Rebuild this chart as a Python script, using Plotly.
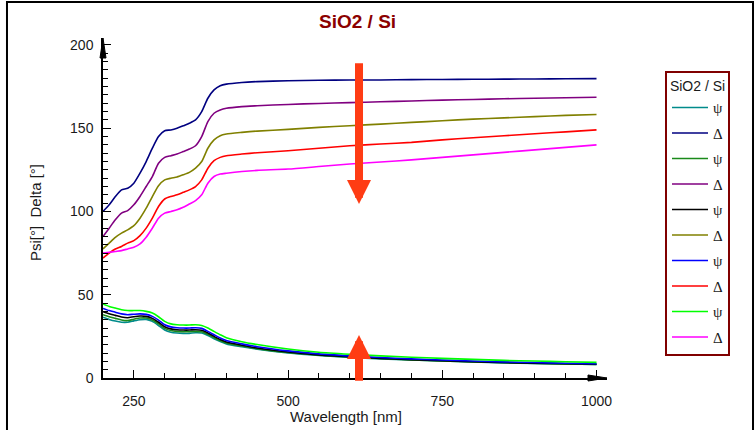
import plotly.graph_objects as go

# Wavelength grid [nm]
wavelength = [200, 210, 220, 230, 240, 250, 260, 270, 280, 290, 300, 310, 320, 330,
              340, 350, 360, 370, 380, 390, 400, 425, 450, 500, 550, 600, 650, 700,
              750, 800, 850, 900, 950, 1000]

# Psi [deg] for the five samples
psi_1 = [36.5, 35.2, 34.2, 33.5, 33.5, 34.3, 35.0, 35.2, 34.0, 31.5, 28.8, 27.5, 27.0, 26.8,
         26.8, 27.2, 27.0, 25.5, 23.6, 21.9, 20.5, 18.8, 17.3, 15.0, 13.5, 12.4, 11.5, 10.8,
         10.2, 9.6, 9.1, 8.7, 8.4, 8.1]
psi_2 = [38.0, 36.8, 35.8, 34.8, 34.5, 35.3, 36.0, 36.0, 34.8, 32.5, 29.8, 28.5, 28.0, 27.8,
         27.8, 28.0, 27.8, 26.2, 24.3, 22.5, 21.0, 19.2, 17.6, 15.3, 13.7, 12.6, 11.7, 10.9,
         10.3, 9.7, 9.2, 8.8, 8.5, 8.2]
psi_3 = [39.8, 38.6, 37.6, 36.6, 36.2, 36.8, 37.2, 37.0, 35.8, 33.5, 30.8, 29.5, 29.0, 28.8,
         28.8, 29.0, 28.7, 27.0, 25.0, 23.1, 21.6, 19.7, 18.0, 15.6, 13.9, 12.8, 11.8, 11.0,
         10.4, 9.8, 9.3, 8.9, 8.6, 8.3]
psi_4 = [41.8, 40.5, 39.5, 38.5, 38.0, 38.3, 38.5, 38.2, 37.0, 34.8, 32.0, 30.7, 30.2, 30.0,
         30.0, 30.2, 29.8, 28.0, 26.0, 24.0, 22.5, 20.5, 18.8, 16.3, 14.5, 13.3, 12.3, 11.5,
         10.8, 10.2, 9.7, 9.3, 8.9, 8.6]
psi_5 = [44.5, 43.0, 42.0, 41.0, 40.5, 40.5, 40.5, 40.0, 39.0, 36.8, 34.0, 32.5, 32.0, 31.8,
         31.8, 32.0, 31.5, 30.0, 28.0, 26.0, 24.2, 21.8, 20.1, 17.4, 15.5, 14.3, 13.3, 12.5,
         11.8, 11.2, 10.6, 10.2, 9.8, 9.4]

# Delta [deg] for the five samples
delta_1 = [100.0, 104.0, 109.0, 113.0, 114.0, 117.0, 123.0, 130.0, 138.0, 145.0, 148.5, 149.0,
           150.0, 151.5, 153.0, 155.0, 160.0, 168.0, 173.0, 175.5, 176.5, 177.5, 178.0, 178.5,
           178.8, 179.0, 179.0, 179.2, 179.3, 179.4, 179.5, 179.6, 179.7, 179.8]
delta_2 = [85.0, 90.0, 95.0, 99.0, 100.5, 104.0, 109.0, 115.0, 121.0, 129.0, 132.5, 133.5,
           134.5, 136.0, 137.5, 139.5, 145.0, 154.0, 159.0, 161.0, 162.0, 163.0, 163.5, 164.3,
           164.9, 165.4, 165.9, 166.4, 166.9, 167.3, 167.7, 168.0, 168.3, 168.6]
delta_3 = [77.5, 81.0, 84.5, 87.0, 89.0, 91.5, 96.0, 102.0, 109.0, 115.5, 119.0, 120.0,
           120.7, 122.0, 123.5, 126.0, 130.0, 138.0, 143.0, 145.5, 146.5, 147.5, 148.3, 149.3,
           150.5, 151.5, 152.5, 153.5, 154.5, 155.5, 156.2, 157.0, 157.7, 158.3]
delta_4 = [72.0, 75.0, 77.5, 79.0, 81.0, 82.5, 85.5, 90.0, 96.0, 103.0, 107.5, 109.0,
           110.0, 111.5, 113.0, 115.0, 119.0, 126.0, 130.5, 132.5, 133.5, 134.5, 135.3, 136.5,
           138.0, 139.5, 140.5, 141.5, 143.0, 144.3, 145.5, 146.7, 147.8, 149.0]
delta_5 = [75.0, 75.5, 76.0, 76.5, 77.5, 78.5, 80.5, 84.5, 90.0, 96.0, 99.0, 100.0,
           101.0, 102.5, 104.5, 106.5, 110.0, 117.0, 121.0, 122.5, 123.0, 124.0, 124.7, 125.5,
           127.0, 128.5, 129.7, 131.0, 132.5, 134.0, 135.5, 137.0, 138.5, 140.0]

psi_series = [psi_1, psi_2, psi_3, psi_4, psi_5]
delta_series = [delta_1, delta_2, delta_3, delta_4, delta_5]
psi_colors = ["#008b8b", "#1a8a1a", "#000000", "#0000ff", "#00ff00"]
delta_colors = ["#000080", "#800080", "#808000", "#ff0000", "#ff00ff"]

X_MAX = 1017
Y_MAX = 204.2

fig = go.Figure()
group = 0
for psi, dlt, cp, cd in zip(psi_series, delta_series, psi_colors, delta_colors):
    fig.add_trace(go.Scatter(x=wavelength, y=psi, mode="lines", name="\u03c8",
                             line=dict(color=cp, width=1.6, shape="spline", smoothing=0.6),
                             legendgroup=f"g{group}"))
    group += 1
    fig.add_trace(go.Scatter(x=wavelength, y=dlt, mode="lines", name="\u0394",
                             line=dict(color=cd, width=1.6, shape="spline", smoothing=0.6),
                             legendgroup=f"g{group}"))
    group += 1

axis_font = dict(family="Liberation Sans, Arial, sans-serif", size=14, color="#1a1a1a")

fig.update_xaxes(range=[200, X_MAX], showgrid=False, zeroline=False,
                 showline=True, linecolor="black", linewidth=1.5,
                 ticks="inside", ticklen=8, tickwidth=1.3, tickcolor="black",
                 tick0=250, dtick=250, tickfont=axis_font, ticklabelstandoff=9,
                 minor=dict(ticks="inside", dtick=50, tick0=200, ticklen=5,
                            tickwidth=1.2, tickcolor="black"))
fig.update_yaxes(range=[0, Y_MAX], showgrid=False, zeroline=False,
                 showline=True, linecolor="black", linewidth=1.5,
                 ticks="inside", ticklen=8, tickwidth=1.3, tickcolor="black",
                 tick0=0, dtick=50, tickfont=axis_font, ticklabelstandoff=5,
                 minor=dict(ticks="inside", dtick=5, ticklen=5,
                            tickwidth=1.2, tickcolor="black"))

# arrowheads at the ends of both axes (paper anchors so they are not clipped)
fig.add_shape(type="path", xref="paper", yref="paper", xsizemode="pixel", ysizemode="pixel",
              xanchor=0, yanchor=1, path="M-3,-20 L0,0 L3,-20 Z",
              fillcolor="black", line=dict(color="black", width=1))
fig.add_shape(type="path", xref="paper", yref="paper", xsizemode="pixel", ysizemode="pixel",
              xanchor=1, yanchor=0, path="M-19,-3 L0,0 L-19,3 Z",
              fillcolor="black", line=dict(color="black", width=1))

# frame around the whole figure
fig.add_shape(type="rect", xref="paper", yref="paper",
              x0=-0.1905, x1=1.2897, y0=-0.2, y1=1.106,
              line=dict(color="black", width=2))

# trend arrows: Delta decreases, Psi increases
arrow_color = "#ff3c14"
fig.add_annotation(x=615, y=104.5, ax=615, ay=190, xref="x", yref="y", axref="x", ayref="y",
                   text="", showarrow=True, arrowhead=2, arrowsize=0.6, arrowwidth=8,
                   arrowcolor=arrow_color)
fig.add_annotation(x=615, y=25.8, ax=615, ay=-2.6, xref="x", yref="y", axref="x", ayref="y",
                   text="", showarrow=True, arrowhead=2, arrowsize=0.6, arrowwidth=8,
                   arrowcolor=arrow_color)

# titles
fig.add_annotation(text="<b>SiO2 / Si</b>", xref="paper", yref="paper",
                   x=(357 - 103) / 504, y=(378 - 22) / 340, xanchor="center", yanchor="middle",
                   showarrow=False,
                   font=dict(family="Liberation Sans, Arial, sans-serif", size=19, color="#8b0000"))
fig.add_annotation(text="Wavelength [nm]", xref="paper", yref="paper",
                   x=(346 - 103) / 504, y=-(416 - 378) / 340, xanchor="center", yanchor="middle",
                   showarrow=False,
                   font=dict(family="Liberation Sans, Arial, sans-serif", size=15, color="#1a1a1a"))
fig.add_annotation(text="Psi[\u00b0]  Delta [\u00b0]", xref="paper", yref="paper",
                   x=(36 - 103) / 504, y=(378 - 213) / 340, xanchor="center", yanchor="middle",
                   textangle=-90, showarrow=False,
                   font=dict(family="Liberation Sans, Arial, sans-serif", size=15, color="#1a1a1a"))

fig.update_layout(
    width=756, height=430,
    margin=dict(l=103, r=756 - 607, t=38, b=52),
    paper_bgcolor="white", plot_bgcolor="white",
    showlegend=True,
    legend=dict(
        x=(665 - 103) / 504, y=(378 - 71) / 340, xanchor="left", yanchor="top",
        bordercolor="#800000", borderwidth=2, bgcolor="white",
        font=dict(family="Liberation Serif, Times New Roman, serif", size=15, color="#1a1a1a"),
        title=dict(text="SiO2 / Si", side="top center",
                   font=dict(family="Liberation Sans, Arial, sans-serif", size=14, color="#1a1a1a")),
        tracegroupgap=3, itemwidth=36,
    ),
)

fig.write_html("out.html")
